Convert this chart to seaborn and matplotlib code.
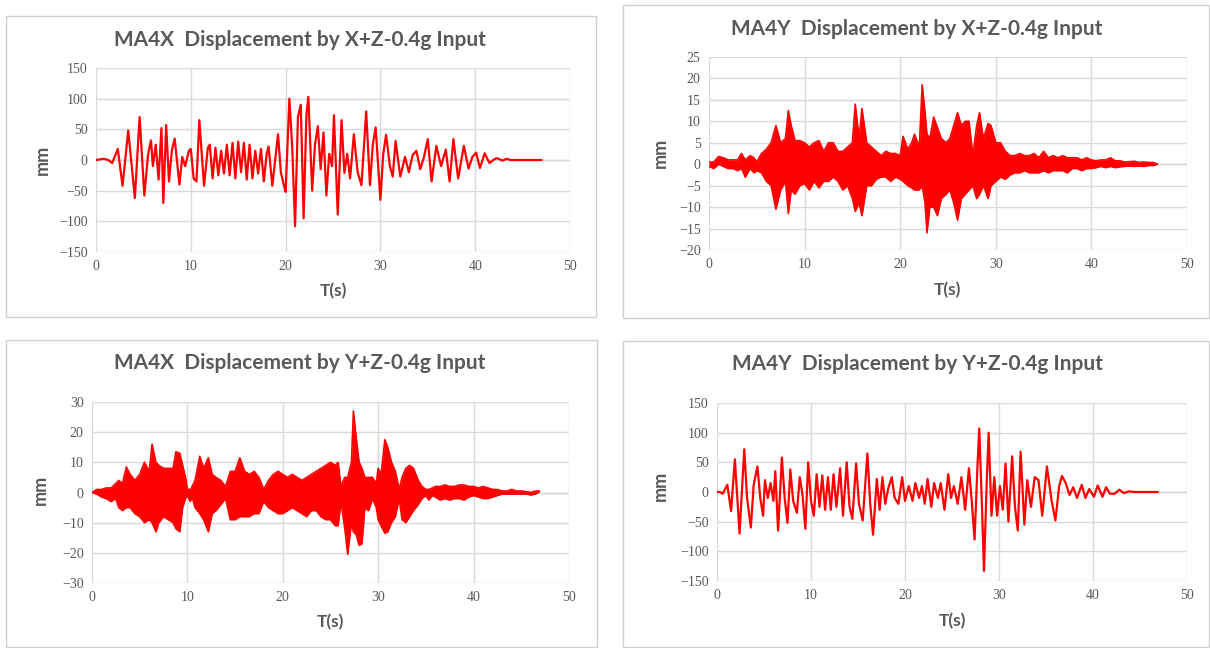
import numpy as np
import pandas as pd
import matplotlib
matplotlib.use("Agg")
import matplotlib.pyplot as plt
from matplotlib.patches import Rectangle
import seaborn as sns

# ---------------- data ----------------
# Panel 1: MA4X displacement by X+Z input  (peak sequence)
t_ma4x_xz = [0.0, 0.8, 1.3, 1.7, 2.3, 2.8, 3.4, 4.1, 4.6, 5.1, 5.5, 5.8, 6.0, 6.3, 6.6, 6.9, 7.1, 7.4, 7.7, 8.0,
             8.3, 8.8, 9.1, 9.4, 9.8, 10.0, 10.3, 10.6, 10.9, 11.2, 11.4, 11.8, 12.0, 12.3, 12.6, 12.9, 13.2, 13.5,
             13.8, 14.1, 14.4, 14.7, 15.0, 15.3, 15.6, 15.9, 16.2, 16.5, 16.8, 17.1, 17.4, 17.7, 18.0, 18.2, 18.6,
             19.2, 19.5, 19.8, 20.0, 20.4, 20.7, 21.0, 21.3, 21.6, 21.9, 22.2, 22.4, 22.8, 23.1, 23.4, 23.7, 24.0,
             24.3, 24.6, 24.9, 25.1, 25.5, 25.9, 26.2, 26.5, 26.8, 27.2, 27.6, 28.0, 28.5, 28.9, 29.2, 29.5, 30.0,
             30.3, 30.6, 31.0, 31.3, 31.6, 32.1, 32.6, 33.0, 33.4, 33.8, 34.2, 34.6, 35.0, 35.4, 35.9, 36.4, 36.9,
             37.3, 37.7, 38.2, 38.8, 39.3, 39.7, 40.1, 40.5, 41.0, 41.5, 42.0, 42.3, 42.9, 43.3, 43.7, 44.2, 47.0]
v_ma4x_xz = [0, 2, 0, -5, 18, -42, 48, -62, 70, -58, 10, 32, -10, 25, -32, 52, -70, 57, -35, 15,
             35, -40, 5, -10, 15, 18, -30, -35, 65, 0, -42, 20, 25, -30, 20, -25, 15, -22,
             25, -25, 28, -30, 30, -20, 28, -32, 25, -30, 15, -22, 18, -35, 10, 22, -42,
             42, -20, -40, -52, 100, 20, -108, 70, 90, -95, 75, 103, -50, 25, 55, -15, 45,
             -58, 10, -10, 73, -89, 65, -21, 10, -30, 42, -20, -41, 79, -41, 25, 53, -65,
             10, 41, -10, -27, 31, -27, 5, -20, 8, 15, -15, 5, 34, -35, 23, -10, 17,
             -35, 34, -30, 23, -14, 5, 12, -13, 11, -5, 1, 3, -1, 2, 0, 0, 0]

# Panel 2: MA4Y displacement by X+Z input  (upper / lower envelope)
t_ma4y_xz = [0.0, 0.5, 1.0, 1.5, 2.0, 2.5, 3.0, 3.4, 3.8, 4.3, 4.7, 5.0, 5.5, 6.0, 6.5, 7.0, 7.5, 8.0, 8.3, 8.6,
             9.0, 9.5, 10.0, 10.5, 11.0, 11.5, 12.0, 12.5, 13.0, 13.5, 14.0, 14.5, 15.0, 15.3, 15.7, 16.0, 16.5,
             17.0, 17.5, 18.0, 18.5, 19.0, 19.5, 20.0, 20.3, 20.8, 21.2, 21.5, 22.0, 22.3, 22.6, 22.8, 23.1, 23.5,
             23.9, 24.3, 24.8, 25.2, 25.6, 26.0, 26.4, 26.8, 27.2, 27.6, 28.0, 28.3, 28.7, 29.2, 29.5, 30.0, 30.5,
             31.0, 31.5, 32.0, 32.5, 33.0, 33.5, 34.0, 34.5, 35.0, 35.5, 36.0, 36.5, 37.0, 37.5, 38.0, 38.5, 39.0,
             39.5, 40.0, 40.5, 41.0, 41.5, 42.0, 42.5, 43.0, 43.5, 44.0, 44.5, 45.0, 45.5, 46.0, 46.5, 46.9]
hi_ma4y_xz = [0.5, 0.5, 1.8, 1.5, 1.0, 1.0, 1.0, 2.5, 1.0, 2.0, 1.5, 0.5, 2.5, 3.5, 5, 9, 5, 6, 12.5, 9,
              5.5, 5.5, 5, 4, 5, 5.5, 3, 5, 5, 3, 3, 4, 5, 14, 6, 13, 5,
              4, 3, 2, 3, 2.5, 2.5, 2, 6.5, 3.5, 5, 7, 4, 18.5, 12, 7, 6, 11,
              8.5, 6, 5, 6, 9, 12, 9, 10, 10, 2, 9, 12, 6, 9.5, 9, 5, 5,
              3, 2, 2, 2.5, 2, 2, 2.5, 1.5, 3, 1.5, 2, 1.5, 2, 1.5, 1.5, 1.5, 1,
              1.5, 1, 0.8, 1, 1, 1.5, 0.8, 0.8, 0.5, 0.6, 0.7, 0.4, 0.5, 0.4, 0.4, 0]
lo_ma4y_xz = [-0.5, -1, 0, -0.5, -1, -1, -1.5, -1, -3, -1, -2, -1.5, -2, -4, -5, -10.5, -6, -4, -11.5, -6,
              -7, -5, -4.5, -6, -4, -5.5, -4, -4, -3, -4, -6, -5, -8, -11, -9, -12, -5,
              -5, -3.5, -3, -3, -4, -3, -3.5, -4, -5, -5.5, -6, -6, -5, -9, -16, -10, -10,
              -12, -8, -7, -6, -9, -13, -8, -7, -6, -5, -8, -7, -5, -8, -5, -4, -3,
              -3.5, -2.5, -2, -2, -1.5, -2, -2, -2, -1.5, -2, -1.5, -1.5, -1.5, -2, -1, -1, -1.5,
              -1, -1, -0.8, -0.5, -0.8, -0.5, -0.8, -0.6, -0.5, -0.4, -0.5, -0.4, -0.5, -0.3, -0.3, 0]

# Panel 3: MA4X displacement by Y+Z input  (upper / lower envelope)
t_ma4x_yz = [0.0, 0.5, 1.0, 1.5, 2.0, 2.5, 2.8, 3.2, 3.6, 4.0, 4.5, 5.0, 5.5, 6.0, 6.3, 6.7, 7.0, 7.5, 8.0, 8.5,
             8.8, 9.2, 9.5, 9.8, 10.0, 10.3, 10.5, 10.8, 11.3, 11.7, 12.2, 12.6, 13.0, 13.5, 14.0, 14.5, 15.0,
             15.5, 16.0, 16.5, 17.0, 17.5, 18.0, 18.5, 19.0, 19.5, 20.0, 20.5, 21.0, 21.5, 22.0, 22.5, 23.0, 23.5,
             24.0, 24.5, 25.0, 25.5, 25.8, 26.1, 26.5, 26.8, 27.2, 27.4, 27.7, 28.0, 28.3, 28.6, 29.0, 29.4, 29.8,
             30.0, 30.3, 30.7, 31.0, 31.4, 31.8, 32.2, 32.5, 32.9, 33.3, 33.7, 34.2, 34.6, 35.0, 35.3, 35.7, 36.0,
             36.5, 37.0, 37.5, 38.0, 38.5, 39.0, 39.5, 40.0, 40.5, 41.0, 41.5, 42.0, 42.5, 43.0, 43.5, 44.0, 44.5,
             45.0, 45.5, 46.0, 46.5, 46.9]
hi_ma4x_yz = [0, 1, 1, 1.5, 1.5, 3, 4, 3, 8.5, 6, 4, 6, 10, 7, 16, 10, 9, 8, 8, 8,
              13.5, 13, 9, 5, 1, 1, 2, 4, 12, 8, 11.5, 6, 5, 4, 2, 7, 7,
              11.5, 7, 6, 7, 5, 1, 4, 6, 7, 6, 5, 6, 5, 4, 5, 6, 7,
              8, 9, 10, 9, 10, 2, 5, 5, 10, 27, 18, 10, 8, 5, 5, 5, 3,
              8, 6, 17.5, 15, 10, 7, 1, 5, 8, 9, 8, 4, 2, 1, 1, 1.5, 2,
              2, 2.5, 2, 2, 2.5, 2.5, 2, 2, 1.5, 2, 1.5, 1, 1, 0.5, 0.5, 1, 0.5,
              0.5, 0.3, 0, 0.5, 0.5]
lo_ma4x_yz = [0, -0.5, -1.5, -2, -3, -2, -5, -6, -5, -5, -7, -8, -10, -9, -10, -13, -10, -8, -9, -10,
              -12, -13, -5, -2, -1, -3, -1.5, -5, -7, -9, -13, -7, -6, -4, -2, -9, -9,
              -8, -8, -8, -7, -7, -3, -5, -6, -7, -7, -6, -5, -6, -7, -8, -6, -6,
              -8, -9, -9, -11, -11, -3, -12, -20.5, -10, -13, -14, -17.5, -17, -5, -6, -2, -5,
              -9, -11, -13.5, -13, -10, -8, -2, -9, -10, -8, -6, -4, -2, -1, -2.5, -1, -1.5,
              -2.5, -2, -2.5, -2, -2, -2.5, -1.5, -1, -1.5, -2, -2, -1.5, -1, -0.5, -0.5, -0.5, -0.5,
              -0.5, -0.5, -0.8, -0.5, 0.3]

# Panel 4: MA4Y displacement by Y+Z input  (peak sequence)
t_ma4y_yz = [0.0, 0.3, 0.6, 1.1, 1.5, 1.9, 2.4, 2.9, 3.2, 3.6, 3.9, 4.3, 4.6, 4.9, 5.1, 5.4, 5.7, 6.0, 6.2, 6.5,
             6.9, 7.2, 7.5, 7.8, 8.1, 8.5, 8.8, 9.1, 9.4, 9.7, 10.0, 10.3, 10.6, 10.9, 11.2, 11.5, 11.8, 12.1,
             12.4, 12.7, 13.1, 13.4, 13.8, 14.1, 14.4, 14.8, 15.1, 15.5, 16.0, 16.3, 16.6, 17.0, 17.3, 17.6, 17.9,
             18.2, 18.6, 18.9, 19.3, 19.7, 20.0, 20.4, 20.8, 21.1, 21.5, 21.8, 22.1, 22.4, 22.8, 23.1, 23.5, 23.8,
             24.2, 24.6, 24.9, 25.2, 25.6, 26.0, 26.4, 26.8, 27.1, 27.4, 27.7, 27.9, 28.2, 28.4, 28.7, 28.9, 29.2,
             29.5, 29.8, 30.1, 30.4, 30.7, 31.0, 31.4, 31.7, 32.0, 32.3, 32.7, 33.0, 33.4, 33.8, 34.2, 34.6, 35.1,
             35.6, 36.0, 36.4, 36.7, 37.1, 37.5, 37.9, 38.3, 38.8, 39.2, 39.6, 40.1, 40.5, 41.0, 41.4, 41.8, 42.3,
             42.8, 43.3, 43.8, 44.5, 46.9]
v_ma4y_yz = [0, 0, -3, 12, -32, 55, -70, 72, -10, -60, 12, 43, -10, -40, 20, -10, 15, -15, 35, -65,
             58, -10, -52, 38, -15, -35, 25, -5, -62, 50, -15, -40, 30, -25, 28, -30, 25, -30,
             30, -25, 40, -40, 50, -25, -45, 48, -20, -48, 65, -20, -72, 22, -30, 25, -20,
             5, 25, -10, -20, 25, -15, 10, -15, 15, -10, 10, -20, 22, -25, 15, -10, 15,
             -30, 30, -10, 10, -20, 25, -30, 40, -15, -80, 40, 107, -30, -133, 20, 100, -40,
             25, -40, 10, -30, 48, -50, 60, -25, -65, 68, -55, 20, -25, 25, 20, -40, 43,
             -15, -48, 10, 27, 15, -5, 8, -10, 12, -10, 5, -8, 11, -8, 8, -3, -3,
             4, -2, 1, 0, 0]

titles = ["MA4X  Displacement by X+Z-0.4g Input", "MA4Y  Displacement by X+Z-0.4g Input",
          "MA4X  Displacement by Y+Z-0.4g Input", "MA4Y  Displacement by Y+Z-0.4g Input"]
y_limits = [(-150, 150, 50), (-20, 25, 5), (-30, 30, 10), (-150, 150, 50)]
x_ticks = [0, 10, 20, 30, 40, 50]

# ---------------- style ----------------
sns.set_theme(style="white")
plt.rcParams['font.family'] = ['Lato', 'DejaVu Sans']

W, H = 1210, 648
fig = plt.figure(figsize=(W / 100, H / 100), dpi=100)
fig.patch.set_facecolor("white")

def fx(px):
    return px / W

def fy(py):
    return 1 - py / H

GRAY_TXT = "#595959"
GRID = "#d9d9d9"
RED = "#ff0000"

# panel frames (pixel boxes: x0, y0, x1, y1)
frames = [(6, 16, 596, 317), (623, 5, 1209, 318), (6, 340, 597, 647), (623, 341, 1209, 647)]
for (x0, y0, x1, y1) in frames:
    fig.patches.append(Rectangle((fx(x0), fy(y1)), fx(x1 - x0), (y1 - y0) / H,
                                 transform=fig.transFigure, fill=False, edgecolor="#d0d0d0", lw=1.0))

# axes boxes in pixels (x0, y0 top, x1, y1 bottom)
boxes = [(96, 68, 570, 252), (709, 57, 1187, 250), (92, 402, 569, 583), (717, 403, 1187, 581)]
title_pos = [(300, 40), (917, 29), (300, 363), (917, 364)]
mm_pos = [(42, 160), (660, 153), (40, 490), (660, 486)]
ts_pos = [(333, 291), (947, 290), (330, 622), (952, 621)]

axes = []
for (x0, y0, x1, y1) in boxes:
    ax = fig.add_axes([fx(x0), fy(y1), (x1 - x0) / W, (y1 - y0) / H])
    axes.append(ax)

# panel 1 & 4: peak sequences as lines
df1 = pd.DataFrame({"t": t_ma4x_xz, "v": v_ma4x_xz})
sns.lineplot(data=df1, x="t", y="v", ax=axes[0], color=RED, lw=1.6, estimator=None, sort=False)
df4 = pd.DataFrame({"t": t_ma4y_yz, "v": v_ma4y_yz})
sns.lineplot(data=df4, x="t", y="v", ax=axes[3], color=RED, lw=1.6, estimator=None, sort=False)

# panel 2 & 3: dense records shown by their envelopes
for ax, t, hi, lo in [(axes[1], t_ma4y_xz, hi_ma4y_xz, lo_ma4y_xz),
                      (axes[2], t_ma4x_yz, hi_ma4x_yz, lo_ma4x_yz)]:
    sns.lineplot(x=t, y=hi, ax=ax, color=RED, lw=1.2, estimator=None)
    sns.lineplot(x=t, y=lo, ax=ax, color=RED, lw=1.2, estimator=None)
    ax.fill_between(t, lo, hi, color=RED, lw=0)

for i, ax in enumerate(axes):
    lo_y, hi_y, step = y_limits[i]
    ax.set_xlim(0, 50)
    ax.set_ylim(lo_y, hi_y)
    ax.set_xticks(x_ticks)
    ax.set_yticks(np.arange(lo_y, hi_y + step / 2, step))
    ax.grid(True, color=GRID, lw=1.0)
    ax.set_axisbelow(True)
    for s in ax.spines.values():
        s.set_visible(False)
    ax.tick_params(axis="both", length=0, labelsize=10, colors=GRAY_TXT, pad=6)
    for lab in ax.get_xticklabels() + ax.get_yticklabels():
        lab.set_family(['Liberation Serif', 'DejaVu Serif'])
    ax.set_xlabel("")
    ax.set_ylabel("")
    ax.axhline(0, color="#cfcfcf", lw=1.0, zorder=0)
    fig.text(fx(title_pos[i][0]), fy(title_pos[i][1]), titles[i], ha="center", va="center",
             fontsize=15, fontweight="bold", color=GRAY_TXT)
    fig.text(fx(mm_pos[i][0]), fy(mm_pos[i][1]), "mm", ha="center", va="center", rotation=90,
             fontsize=13, fontweight="bold", color=GRAY_TXT)
    fig.text(fx(ts_pos[i][0]), fy(ts_pos[i][1]), "T(s)", ha="center", va="center",
             fontsize=12.5, fontweight="bold", color=GRAY_TXT)

fig.savefig("out.png", dpi=100, facecolor="white")
